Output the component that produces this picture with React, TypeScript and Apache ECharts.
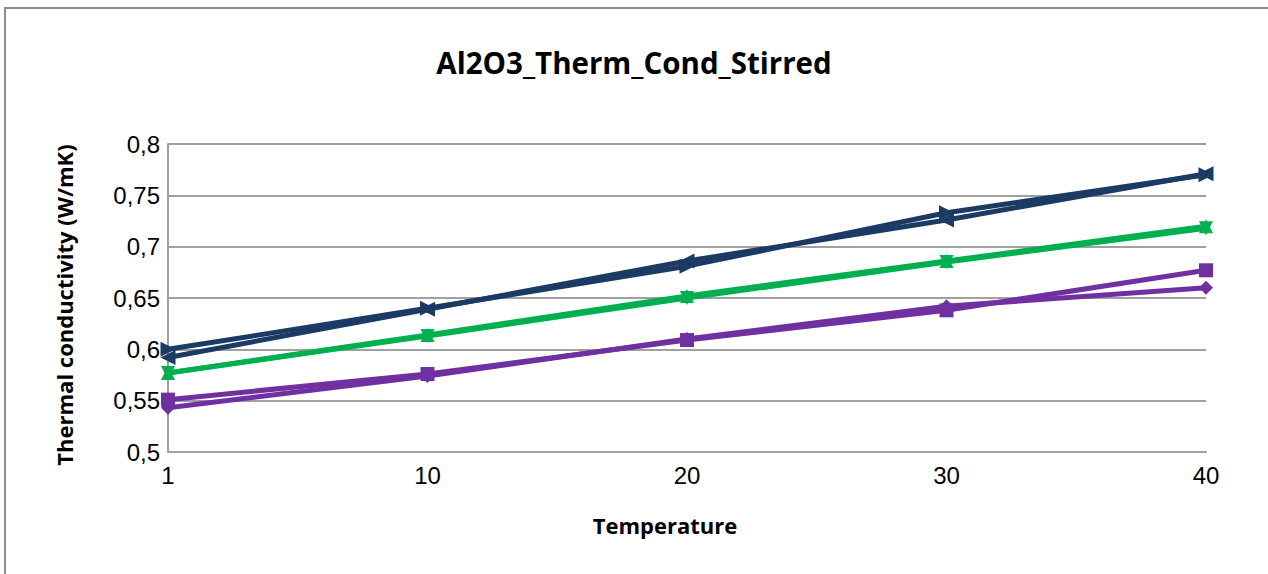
import React, { useEffect, useRef } from "react";
import * as echarts from "echarts";

// Temperatures (category axis)
const temperatures = ["1", "10", "20", "30", "40"];

// Thermal conductivity readings, W/mK
const navyRight = [0.6, 0.64, 0.681, 0.733, 0.77];
const navyLeft = [0.592, 0.639, 0.686, 0.726, 0.771];
const greenUp = [0.577, 0.614, 0.652, 0.686, 0.72];
const greenDown = [0.577, 0.613, 0.65, 0.685, 0.718];
const purpleSquare = [0.551, 0.576, 0.609, 0.638, 0.677];
const purpleDiamond = [0.543, 0.574, 0.61, 0.642, 0.66];

const NAVY = "#1b3a64";
const GREEN = "#00b050";
const PURPLE = "#7030a0";

const TRI_RIGHT = "path://M0,0 L10,5 L0,10 Z";
const TRI_LEFT = "path://M10,0 L0,5 L10,10 Z";
const TRI_UP = "path://M5,0 L10,10 L0,10 Z";
const TRI_DOWN = "path://M0,0 L10,0 L5,10 Z";

const yTickFormat = (v: number) => {
  const s = Number(v.toFixed(2)).toString();
  return s.replace(".", ",");
};

function makeSeries(
  name: string,
  data: number[],
  color: string,
  symbol: string,
  size: number | number[]
) {
  return {
    name,
    type: "line",
    data,
    symbol,
    symbolSize: size,
    showSymbol: true,
    lineStyle: { color, width: 5 },
    itemStyle: { color, borderWidth: 0 },
    z: 3,
  };
}

export default function App() {
  const ref = useRef<HTMLDivElement>(null);

  useEffect(() => {
    if (!ref.current) return;
    const chart = echarts.init(ref.current, undefined, { renderer: "svg" });
    chart.setOption({
      animation: false,
      backgroundColor: "#ffffff",
      title: {
        text: "Al2O3_Therm_Cond_Stirred",
        left: "center",
        top: 42,
        textStyle: {
          fontFamily: "Open Sans",
          fontWeight: "bold",
          fontSize: 29.5,
          color: "#000000",
        },
      },
      graphic: [
        {
          type: "rect",
          shape: { x: 5, y: 8, width: 1300, height: 600 },
          style: { fill: "none", stroke: "#8c8c8c", lineWidth: 2 },
          silent: true,
        },
      ],
      grid: { left: 168, right: 62, top: 144, bottom: 122, containLabel: false },
      xAxis: {
        type: "category",
        data: temperatures,
        boundaryGap: false,
        name: "Temperature",
        nameLocation: "middle",
        nameGap: 62,
        nameTextStyle: {
          fontFamily: "Open Sans",
          fontWeight: "bold",
          fontSize: 22,
          color: "#000000",
          padding: [0, 44, 0, 0],
        },
        axisLine: { lineStyle: { color: "#a0a0a0", width: 2 } },
        axisTick: { show: false },
        axisLabel: {
          fontFamily: "Liberation Sans",
          fontSize: 24,
          color: "#000000",
          margin: 11,
        },
        splitLine: { show: false },
      },
      yAxis: {
        type: "value",
        min: 0.5,
        max: 0.8,
        interval: 0.05,
        name: "Thermal conductivity (W/mK)",
        nameLocation: "middle",
        nameGap: 93,
        nameTextStyle: {
          fontFamily: "Open Sans",
          fontWeight: "bold",
          fontSize: 22,
          color: "#000000",
          padding: [0, 14, 0, 0],
        },
        axisLine: { show: true, lineStyle: { color: "#a0a0a0", width: 2 } },
        axisTick: { show: false },
        axisLabel: {
          fontFamily: "Liberation Sans",
          fontSize: 24,
          color: "#000000",
          margin: 8,
          formatter: yTickFormat,
        },
        splitLine: { lineStyle: { color: "#a0a0a0", width: 2 } },
      },
      series: [
        makeSeries("Purple diamond", purpleDiamond, PURPLE, "diamond", [14, 14]),
        makeSeries("Purple square", purpleSquare, PURPLE, "rect", 14),
        makeSeries("Green down", greenDown, GREEN, TRI_DOWN, 14),
        makeSeries("Green up", greenUp, GREEN, TRI_UP, 14),
        makeSeries("Navy left", navyLeft, NAVY, TRI_LEFT, 15),
        makeSeries("Navy right", navyRight, NAVY, TRI_RIGHT, 15),
      ],
    });
    return () => chart.dispose();
  }, []);

  return (
    <div
      ref={ref}
      style={{ position: "fixed", left: 0, top: 0, width: 1268, height: 574 }}
    />
  );
}
